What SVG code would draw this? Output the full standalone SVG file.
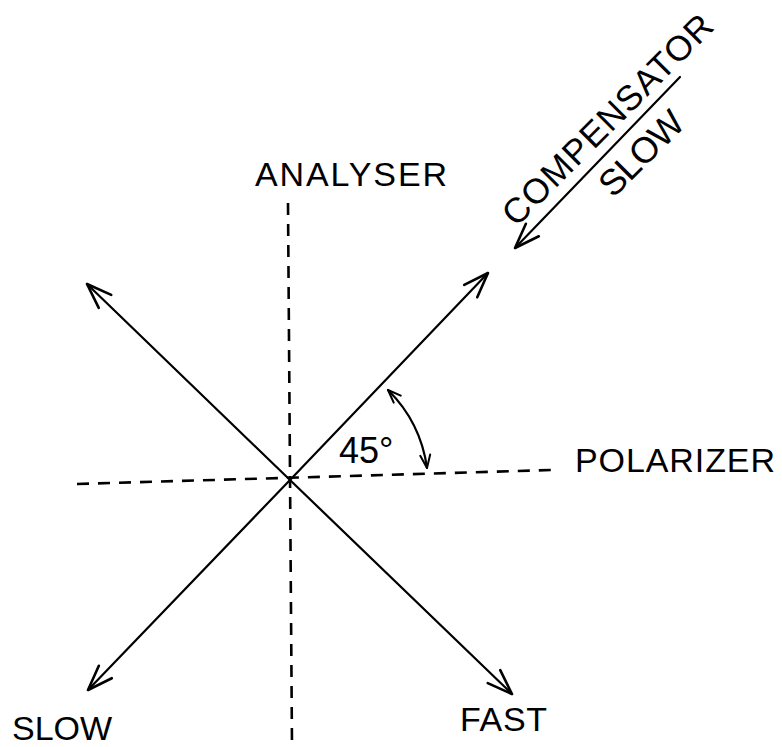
<svg xmlns="http://www.w3.org/2000/svg" width="782" height="747" viewBox="0 0 782 747">
<defs>
<style>
.ln{stroke:#000;stroke-width:2.2;fill:none;stroke-linecap:round}
.ds{stroke:#000;stroke-width:2.6;fill:none;stroke-dasharray:12 9}
.t{font-family:"Liberation Sans",Arial,sans-serif;font-size:34px;fill:#000}
.big{marker-end:url(#ah)}
</style>
<marker id="ah" markerUnits="userSpaceOnUse" viewBox="-30 -15 32 30" refX="0" refY="0" markerWidth="32" markerHeight="30" orient="auto" overflow="visible">
<path d="M-25,-9 L0,0 L-25,9" fill="none" stroke="#000" stroke-width="2.6" stroke-linecap="round" stroke-linejoin="round"/>
</marker>
<marker id="sh" markerUnits="userSpaceOnUse" viewBox="-16 -8 18 16" refX="0" refY="0" markerWidth="18" markerHeight="16" orient="auto-start-reverse" overflow="visible">
<path d="M-13,-5 L0,0 L-13,5" fill="none" stroke="#000" stroke-width="2" stroke-linecap="round" stroke-linejoin="round"/>
</marker>
</defs>
<rect width="782" height="747" fill="#fff"/>
<g id="connectors">
<line id="analyser-axis" class="ds" x1="288" y1="203" x2="292" y2="746"/>
<line id="polarizer-axis" class="ds" x1="77" y1="484" x2="552" y2="470"/>
<line class="ln big" x1="290" y1="480" x2="488" y2="273"/>
<line class="ln big" x1="290" y1="480" x2="87" y2="284"/>
<line class="ln big" x1="290" y1="480" x2="88" y2="690"/>
<line class="ln big" x1="290" y1="480" x2="512" y2="694"/>
<line id="compensator-arrow" class="ln big" x1="680" y1="77" x2="515" y2="248"/>
<path id="angle-arc" class="ln" d="M388,390 A136,136 0 0 1 427,468" style="marker-start:url(#sh);marker-end:url(#sh)"/>
</g>
<g id="analyser"><text class="t" x="255" y="186" textLength="192" lengthAdjust="spacing">ANALYSER</text></g>
<g id="polarizer"><text class="t" x="575" y="472" textLength="200" lengthAdjust="spacing">POLARIZER</text></g>
<g id="slow"><text class="t" x="12" y="740" textLength="100" lengthAdjust="spacing">SLOW</text></g>
<g id="fast"><text class="t" x="460" y="731" textLength="87" lengthAdjust="spacing">FAST</text></g>
<g id="angle"><text class="t" x="339" y="463" style="font-size:36px">45°</text></g>
<g id="compensator">
<text class="t" transform="translate(616,128) rotate(-45)" text-anchor="middle" textLength="282" lengthAdjust="spacing" style="font-size:35px">COMPENSATOR</text>
<text class="t" transform="translate(650,162) rotate(-45)" text-anchor="middle" textLength="104" lengthAdjust="spacing" style="font-size:36px">SLOW</text>
</g>
</svg>
